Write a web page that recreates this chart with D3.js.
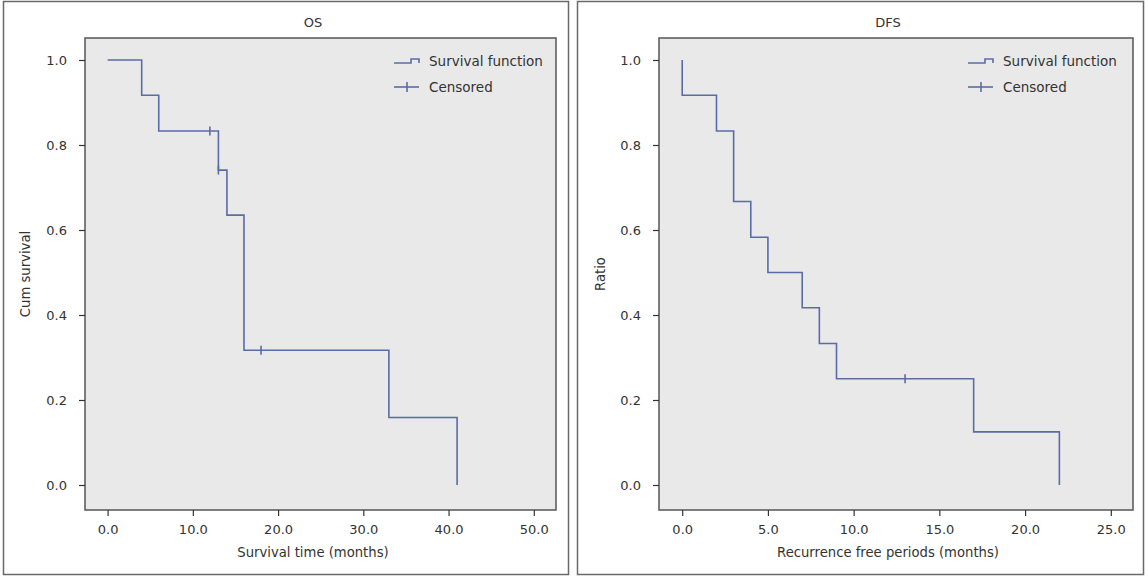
<!DOCTYPE html>
<html><head><meta charset="utf-8">
<script src="https://cdn.jsdelivr.net/npm/d3@7"></script>
<style>
html,body{margin:0;padding:0;background:#fff;}
text{font-family:"DejaVu Sans",sans-serif;fill:#333;}
</style></head>
<body><svg id="chart" width="1148" height="580"></svg>
<script>
// ---------- data ----------
const osTimes = [0, 4, 6, 13, 14, 16, 33, 41];
const osSurvival = [1.0, 0.917, 0.833, 0.741, 0.635, 0.317, 0.159, 0.0];
const osCensorTimes = [12, 13, 18];
const osCensorSurvival = [0.833, 0.741, 0.317];

const dfsTimes = [0, 0, 2, 3, 4, 5, 7, 8, 9, 17, 22];
const dfsSurvival = [1.0, 0.917, 0.833, 0.667, 0.583, 0.5, 0.417, 0.333, 0.25, 0.125, 0.0];
const dfsCensorTimes = [13];
const dfsCensorSurvival = [0.25];

const osXTicks = [0, 10, 20, 30, 40, 50];
const dfsXTicks = [0, 5, 10, 15, 20, 25];
const yTicks = [0, 0.2, 0.4, 0.6, 0.8, 1.0];
const legendLabels = ["Survival function", "Censored"];

// ---------- layout ----------
const svg = d3.select("#chart");
const lineColor = "#5a6ca8";
const FONT = "DejaVu Sans, sans-serif";

const panels = [
  {title: "OS", xLabel: "Survival time (months)", yLabel: "Cum survival",
   times: osTimes, surv: osSurvival, cT: osCensorTimes, cS: osCensorSurvival,
   xTicks: osXTicks, xMax: 50,
   outer: [3, 1, 565, 573], plot: [85, 38, 556, 510], tick0: 107.6, tickMax: 533.8,
   yLabelX: 25, titleX: 313, legendX: 394},
  {title: "DFS", xLabel: "Recurrence free periods (months)", yLabel: "Ratio",
   times: dfsTimes, surv: dfsSurvival, cT: dfsCensorTimes, cS: dfsCensorSurvival,
   xTicks: dfsXTicks, xMax: 25,
   outer: [577, 1, 566, 573], plot: [659, 38, 1133, 510], tick0: 682.2, tickMax: 1110.8,
   yLabelX: 600, titleX: 888, legendX: 968}
];

const y = d3.scaleLinear().domain([0, 1]).range([485, 60]);

panels.forEach(p => {
  const g = svg.append("g");
  g.append("rect").attr("x", p.outer[0] + 0.5).attr("y", p.outer[1] + 0.5)
    .attr("width", p.outer[2]).attr("height", p.outer[3])
    .attr("fill", "#fff").attr("stroke", "#6a6a6a").attr("stroke-width", 1.5);
  const [px0, py0, px1, py1] = p.plot;
  g.append("rect").attr("x", px0).attr("y", py0).attr("width", px1 - px0).attr("height", py1 - py0)
    .attr("fill", "#e9e9e9").attr("stroke", "#555").attr("stroke-width", 1.5);

  const x = d3.scaleLinear().domain([0, p.xMax]).range([p.tick0, p.tickMax]);

  const xa = g.append("g").attr("transform", `translate(0,${py1})`)
    .call(d3.axisBottom(x).tickValues(p.xTicks).tickFormat(d3.format(".1f")).tickSize(6).tickSizeOuter(0).tickPadding(9));
  xa.select(".domain").remove();
  xa.selectAll("line").attr("stroke", "#333").attr("stroke-width", 1.2);
  xa.selectAll("text").attr("font-size", 13).attr("fill", "#333").style("font-family", FONT);

  const ya = g.append("g").attr("transform", `translate(${px0},0)`)
    .call(d3.axisLeft(y).tickValues(yTicks).tickFormat(d3.format(".1f")).tickSize(6).tickSizeOuter(0).tickPadding(12));
  ya.select(".domain").remove();
  ya.selectAll("line").attr("stroke", "#333").attr("stroke-width", 1.2);
  ya.selectAll("text").attr("font-size", 13).attr("fill", "#333").style("font-family", FONT);

  g.append("text").attr("x", p.titleX).attr("y", 27).attr("text-anchor", "middle")
    .attr("font-size", 13).text(p.title);
  g.append("text").attr("x", p.titleX).attr("y", 557).attr("text-anchor", "middle")
    .attr("font-size", 13.2).text(p.xLabel);
  g.append("text").attr("transform", `translate(${p.yLabelX},${(py0 + py1) / 2}) rotate(-90)`)
    .attr("text-anchor", "middle").attr("dy", "0.35em").attr("font-size", 13.2).text(p.yLabel);

  const pts = p.times.map((t, i) => [t, p.surv[i]]);
  const line = d3.line().x(d => x(d[0])).y(d => y(d[1])).curve(d3.curveStepAfter);
  g.append("path").datum(pts).attr("d", line).attr("fill", "none")
    .attr("stroke", lineColor).attr("stroke-width", 1.6);

  g.selectAll(".cens").data(p.cT.map((t, i) => [t, p.cS[i]])).enter().append("line")
    .attr("x1", d => x(d[0])).attr("x2", d => x(d[0]))
    .attr("y1", d => y(d[1]) - 4.5).attr("y2", d => y(d[1]) + 4.5)
    .attr("stroke", lineColor).attr("stroke-width", 1.6);

  const lx = p.legendX;
  g.append("path").attr("d", `M${lx},63 H${lx + 17} V59 H${lx + 25} V63`)
    .attr("fill", "none").attr("stroke", lineColor).attr("stroke-width", 1.6);
  g.append("line").attr("x1", lx).attr("x2", lx + 25).attr("y1", 87).attr("y2", 87)
    .attr("stroke", lineColor).attr("stroke-width", 1.6);
  g.append("line").attr("x1", lx + 13).attr("x2", lx + 13).attr("y1", 82).attr("y2", 92)
    .attr("stroke", lineColor).attr("stroke-width", 1.6);
  legendLabels.forEach((lab, i) => {
    g.append("text").attr("x", lx + 35).attr("y", 61 + i * 26).attr("dy", "0.35em")
      .attr("font-size", 13.5).text(lab);
  });
});
</script></body></html>
